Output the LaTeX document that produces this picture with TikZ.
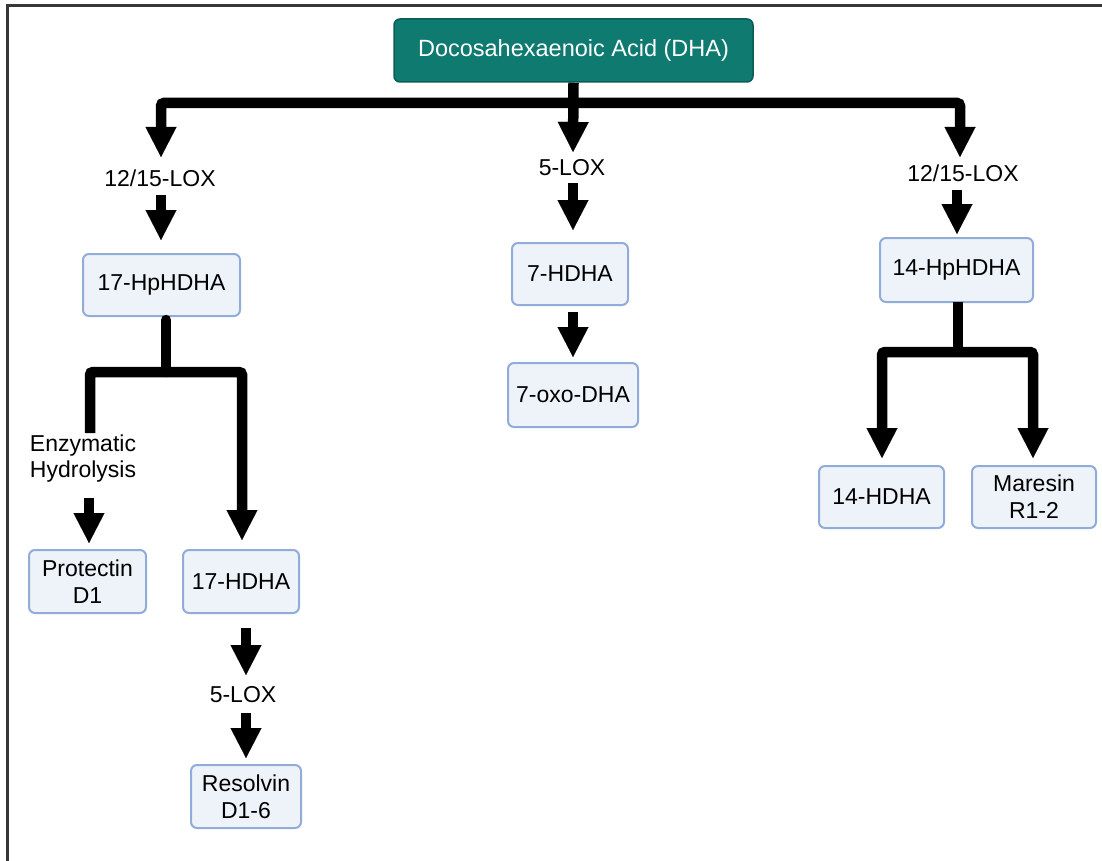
\documentclass[tikz,border=0pt]{standalone}
\usepackage{fontspec}
\setmainfont{Liberation Sans}
\usetikzlibrary{arrows.meta}
\definecolor{dhafill}{RGB}{14,122,112}
\definecolor{dhaedge}{RGB}{10,92,84}
\definecolor{boxfill}{RGB}{238,243,250}
\definecolor{boxedge}{RGB}{146,172,218}
\definecolor{framecol}{RGB}{55,55,55}
\begin{document}
\begin{tikzpicture}[x=1pt,y=-1pt,
  box/.style={draw=boxedge, fill=boxfill, line width=2pt, rounded corners=6pt,
    font=\fontsize{23}{27}\selectfont, align=center, inner sep=0pt},
  dhabox/.style={draw=dhaedge, fill=dhafill, text=white, line width=1.5pt, rounded corners=6pt,
    font=\fontsize{23.5}{27}\selectfont, inner sep=0pt},
  lab/.style={font=\fontsize{23}{26}\selectfont, align=center, inner sep=0pt},
  tip/.style={Triangle[width=31pt,length=30pt,line width=0.01pt]},
  arr/.style={line width=10.5pt, -{Triangle[width=31pt,length=30pt,line width=0.01pt]}},
  arrb/.style={line width=10.5pt, rounded corners=3pt,
     {Triangle[width=31pt,length=30pt,line width=0.01pt]}-{Triangle[width=31pt,length=30pt,line width=0.01pt]}},
  stem/.style={line width=10.5pt}
]
\useasboundingbox (0,0) rectangle (1102,861);
\draw[framecol, line width=3pt] (7,861) -- (7,6) -- (1102,6);

% boxes
\node[dhabox, minimum width=359pt, minimum height=63pt] (dha) at (573.5,50.5) {Docosahexaenoic Acid (DHA)};
\node[box, minimum width=157pt, minimum height=62pt] (hp17) at (161.5,285) {17-HpHDHA};
\node[box, minimum width=117pt, minimum height=63pt] (pd1) at (87.5,581.5) {Protectin\\D1};
\node[box, minimum width=116pt, minimum height=63pt] (h17) at (241,581.5) {17-HDHA};
\node[box, minimum width=110pt, minimum height=63pt] (rv) at (246,796.5) {Resolvin\\D1-6};
\node[box, minimum width=116pt, minimum height=62pt] (h7) at (570,274) {7-HDHA};
\node[box, minimum width=130pt, minimum height=64pt] (oxo) at (573,395) {7-oxo-DHA};
\node[box, minimum width=153pt, minimum height=64pt] (hp14) at (956.5,270) {14-HpHDHA};
\node[box, minimum width=125pt, minimum height=62pt] (h14) at (881.5,497) {14-HDHA};
\node[box, minimum width=124pt, minimum height=62pt] (mar) at (1034,497) {Maresin\\R1-2};

% labels
\node[lab] (loxA) at (160,178) {12/15-LOX};
\node[lab] (loxB) at (572,168) {5-LOX};
\node[lab] (loxC) at (963,173) {12/15-LOX};
\node[lab] (enz) at (83,459) {Enzymatic\\Hydrolysis};
\node[lab] (loxD) at (243,695) {5-LOX};

% coordinates
\coordinate (tipA) at (161,157);
\coordinate (barL) at (161,103);
\coordinate (barR) at (960,103);
\coordinate (tipC) at (960,157);
\coordinate (tipB) at (573,152);

\coordinate (a1s) at (161,195); \coordinate (a1e) at (161,240);
\coordinate (b1s) at (573,183); \coordinate (b1e) at (573,230);
\coordinate (b2s) at (573,312); \coordinate (b2e) at (573,357);
\coordinate (c1s) at (957,190); \coordinate (c1e) at (957,234);

\coordinate (ls) at (166,320); \coordinate (lj) at (166,372);
\coordinate (lL) at (90,433); \coordinate (lLc) at (90,372);
\coordinate (lRc) at (242,372); \coordinate (lR) at (242,540);
\coordinate (e1s) at (89,498); \coordinate (e1e) at (89,543);
\coordinate (d1s) at (246,628); \coordinate (d1e) at (246,675);
\coordinate (d2s) at (246,713); \coordinate (d2e) at (246,758);

\coordinate (rs) at (958,302); \coordinate (rj) at (958,352);
\coordinate (rLc) at (882,352); \coordinate (rL) at (882,458);
\coordinate (rRc) at (1033,352); \coordinate (rR) at (1033,458);

% main split
\draw[arrb] (tipA) -- (barL) -- (barR) -- (tipC);
\draw[arr] (dha.south) -- (tipB);

% left branch
\draw[arr] (a1s) -- (a1e);
\draw[stem, line cap=round] (ls) -- (lj);
\draw[arr, rounded corners=3pt] (lL) -- (lLc) -- (lRc) -- (lR);
\draw[arr] (e1s) -- (e1e);
\draw[arr] (d1s) -- (d1e);
\draw[arr] (d2s) -- (d2e);

% middle branch
\draw[arr] (b1s) -- (b1e);
\draw[arr] (b2s) -- (b2e);

% right branch
\draw[arr] (c1s) -- (c1e);
\draw[stem] (rs) -- (rj);
\draw[arrb] (rL) -- (rLc) -- (rRc) -- (rR);
\end{tikzpicture}
\end{document}
